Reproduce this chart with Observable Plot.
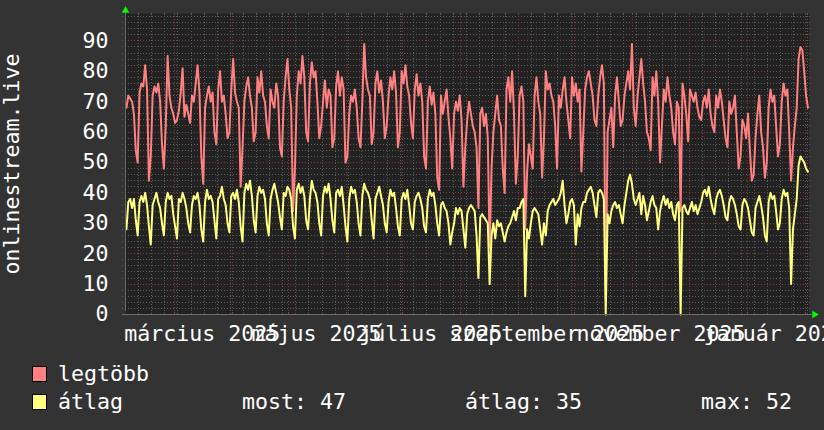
<!DOCTYPE html>
<html><head><meta charset="utf-8">
<script src="https://cdn.jsdelivr.net/npm/d3@7"></script>
<script src="https://cdn.jsdelivr.net/npm/@observablehq/plot@0.6"></script>
<style>
html,body{margin:0;padding:0;background:#333333;}
#wrap{width:824px;height:430px;background:#333333;position:relative;overflow:hidden;}
#legend{position:relative;width:824px;height:80px;}
.leg{position:absolute;font-family:"DejaVu Sans Mono",monospace;font-size:21.6px;line-height:21.6px;color:#ffffff;white-space:pre;}
.box{position:absolute;width:15px;height:16px;box-sizing:border-box;border:1px solid #000;}
</style></head>
<body><div id="wrap"><div id="chart"></div><div id="legend"></div></div>
<script>
// ---- data ----
const startDay = "2025-02-03";          // first daily sample
const domainEnd = "2026-02-03T08:00Z";  // right edge of the graph
const legtobb = [
68,72,71,70,66,54,50, 73,76,75,82,74,44,52, 72,75,73,76,70,56,48, 62,85,72,68,66,63,64,
67,73,81,65,69,66,63, 72,70,76,82,73,52,43, 68,72,75,70,73,60,56, 74,80,70,72,66,58,60,
74,84,73,70,68,42,55, 70,75,78,72,68,57,60, 78,73,80,72,70,62,58, 74,70,68,76,72,55,52,
70,78,84,74,68,34,48, 72,80,76,85,78,60,57, 76,83,78,80,70,58,62, 70,77,68,74,72,55,58,
75,80,72,78,74,50,52, 66,72,70,74,68,58,55, 70,89,78,74,72,56,60, 76,80,73,77,70,58,62,
72,78,74,80,73,55,60, 80,76,82,75,72,63,58, 74,79,72,76,70,52,48, 70,75,69,73,66,45,41,
72,66,70,74,65,58,48, 66,70,67,72,64,42,55, 64,70,66,62,60,55,35, 66,68,62,66,58,22,48,
60,66,72,64,62,48,40, 74,78,70,80,66,43,52, 72,75,70,28,47,56,52, 48,72,78,70,66,45,58,
80,74,76,72,70,62,48, 72,68,74,78,70,64,58, 78,72,76,70,74,47,60, 74,78,80,76,72,64,62,
72,78,82,76,5,60,64, 68,55,72,78,70,62,64, 72,76,80,74,89,68,62, 72,78,84,76,70,60,58,
54,78,72,80,70,50,62, 74,70,78,72,68,60,56, 70,68,34,76,72,66,57, 74,72,70,73,68,65,64,
70,72,68,74,66,62,60, 72,68,74,70,64,58,55, 70,66,68,72,60,48,52, 64,62,58,66,54,44,46,
58,66,72,60,55,45,50, 68,74,70,72,62,52,56, 70,76,72,74,60,44,55, 62,68,84,88,87,80,72,
68];
const atlag = [
28,37,38,35,38,31,26, 37,39,37,40,36,29,23, 36,38,40,37,35,30,26, 37,40,38,39,33,29,25,
38,37,40,38,35,30,27, 36,39,38,40,36,28,24, 37,41,38,39,37,31,25, 38,39,42,38,36,30,27,
39,40,38,41,37,29,24, 40,43,41,44,39,31,27, 39,42,40,41,38,30,26, 38,41,43,40,37,32,28,
40,39,42,41,38,29,25, 41,43,40,42,39,31,28, 38,44,41,40,37,30,26, 39,42,40,43,38,31,27,
40,41,39,42,36,29,24, 38,42,40,41,37,30,26, 39,43,41,40,38,31,25, 38,40,42,39,36,30,27,
37,41,39,40,35,29,26, 38,40,38,41,36,30,28, 37,39,40,38,35,29,27, 38,41,39,40,36,30,26,
36,37,35,34,30,23,27, 30,35,33,35,34,28,22, 33,35,36,35,34,26,12, 32,33,32,31,30,10,26,
30,25,31,29,30,27,24, 27,29,30,32,34,31,35, 35,37,38,6,28,25,30, 34,35,34,33,28,23,30,
26,34,36,37,38,36,37, 38,40,44,36,30,33,37, 38,36,23,33,29,35,37, 37,40,41,42,40,36,32,
40,41,40,38,0,33,30, 34,36,37,35,36,33,30, 36,40,44,46,43,38,36, 38,40,33,39,36,31,34,
37,39,36,35,28,34,37, 39,36,38,35,37,33,31, 36,37,0,35,36,34,33, 35,37,34,36,33,35,37,
40,41,39,42,38,35,33, 38,40,41,39,36,32,31, 37,39,38,36,33,29,28, 36,38,37,35,31,27,26,
35,37,39,36,32,26,24, 37,40,38,39,34,28,30, 38,41,39,40,35,10,28, 33,38,49,52,51,50,48,
47];
const yTicks = [0,10,20,30,40,50,60,70,80,90];
const yTop = 99;
const monthLabelStarts = ["2025-03-01","2025-05-01","2025-07-01","2025-09-01","2025-11-01","2026-01-01"];
const monthLabels = ["március 2025","május 2025","július 2025","szeptember 2025","november 2025","január 2026"];
const unitLabel = "onlinestream.live";
const seriesNames = ["legtöbb","átlag"];
const seriesColors = ["#ff8080","#ffff80"];
const statNames = ["most:","átlag:","max:"];
const statValues = [47,35,52];

// ---- build ----
const start = new Date(startDay + "T00:00Z");
const end = new Date(domainEnd);
const rows = legtobb.map((v,i)=>({date: d3.utcHour.offset(d3.utcDay.offset(start,i),12), legtobb: v, atlag: atlag[i]}));
const majorX = d3.utcMonth.range(d3.utcDay.offset(start,1), end);
const minorX = d3.utcMonday.range(d3.utcDay.offset(start,1), end).filter(d=>d.getUTCDate()!==1);
const majorY = yTicks.filter(v=>v>0);
const minorY = d3.range(2, yTop, 2).filter(v=>v%10!==0);
const labelDates = monthLabelStarts.map(s=>new Date(s+"T00:00Z"));
const FS = 21.6;
const gridGray = "#5c5c5c", gridRed = "#7e3b3b";

const chart = Plot.plot({
  width: 824, height: 350,
  marginLeft: 125, marginRight: 15, marginTop: 13, marginBottom: 36,
  style: {background: "#333333", color: "#ffffff", fontFamily: "'DejaVu Sans Mono', monospace", fontSize: FS + "px"},
  x: {type: "utc", domain: [start, end], axis: null},
  y: {domain: [0, yTop], axis: null},
  marks: [
    Plot.frame({fill: "#222222", stroke: null}),
    Plot.ruleY(minorY, {stroke: gridGray, strokeDasharray: "1,2", insetLeft: -3, insetRight: -2, shapeRendering: "crispEdges"}),
    Plot.ruleY(majorY, {stroke: gridRed, strokeDasharray: "1,2", insetLeft: -3, insetRight: -2, shapeRendering: "crispEdges"}),
    Plot.ruleX(minorX, {stroke: gridGray, strokeDasharray: "1,2", shapeRendering: "crispEdges"}),
    Plot.ruleX(majorX, {stroke: gridRed, strokeDasharray: "1,2", shapeRendering: "crispEdges"}),
    Plot.ruleX(minorX, {y1: yTop, y2: yTop - 0.8, stroke: gridGray, shapeRendering: "crispEdges"}),
    Plot.ruleX(majorX, {y1: yTop, y2: yTop - 0.8, stroke: gridRed, shapeRendering: "crispEdges"}),
    Plot.ruleX(majorX, {y1: 0, y2: 0.8, stroke: gridRed, shapeRendering: "crispEdges"}),
    Plot.line(rows, {x: "date", y: "legtobb", stroke: seriesColors[0], strokeWidth: 2, curve: "linear"}),
    Plot.line(rows, {x: "date", y: "atlag", stroke: seriesColors[1], strokeWidth: 2, curve: "linear"}),
    Plot.ruleY([0], {stroke: "#6a6a6a", insetLeft: -3, insetRight: -3, shapeRendering: "crispEdges"}),
    Plot.ruleX([start], {y1: 0, y2: yTop, stroke: "#6a6a6a", insetTop: -3, shapeRendering: "crispEdges"}),
    Plot.dot([0], {frameAnchor: "top-left", symbol: "triangle", r: 2.8, fill: "#00ff00", stroke: null, dy: -3}),
    Plot.dot([0], {frameAnchor: "bottom-right", symbol: "triangle", rotate: 90, r: 2.8, fill: "#00ff00", stroke: null, dx: 5}),
    Plot.text(yTicks, {y: d=>d, text: d=>String(d), frameAnchor: "left", textAnchor: "end", dx: -17, fontSize: FS, fill: "#ffffff"}),
    Plot.text(labelDates, {x: d=>d3.utcDay.offset(d,15), text: (d,i)=>monthLabels[i], frameAnchor: "bottom", lineAnchor: "bottom", dy: 26, fontSize: FS, fill: "#ffffff"}),
    Plot.text([unitLabel], {text: d=>d, frameAnchor: "left", rotate: -90, dx: -(125 - 18.5), lineAnchor: "bottom", textAnchor: "middle", fontSize: FS, fill: "#ffffff"})
  ]
});
document.getElementById("chart").appendChild(chart);

// ---- legend ----
const leg = d3.select("#legend");
const rowsY = [16, 44];
seriesNames.forEach((name,i)=>{
  leg.append("div").attr("class","box").style("left","32px").style("top",rowsY[i]+"px").style("background",seriesColors[i]);
  leg.append("div").attr("class","leg").style("left","58px").style("top",(rowsY[i]-3.3)+"px").text(name);
});
const statX = [242, 465, 701];
statNames.forEach((s,i)=>{
  leg.append("div").attr("class","leg").style("left",statX[i]+"px").style("top",(rowsY[1]-3.3)+"px").text(s+" "+statValues[i]);
});
</script>
</body></html>
